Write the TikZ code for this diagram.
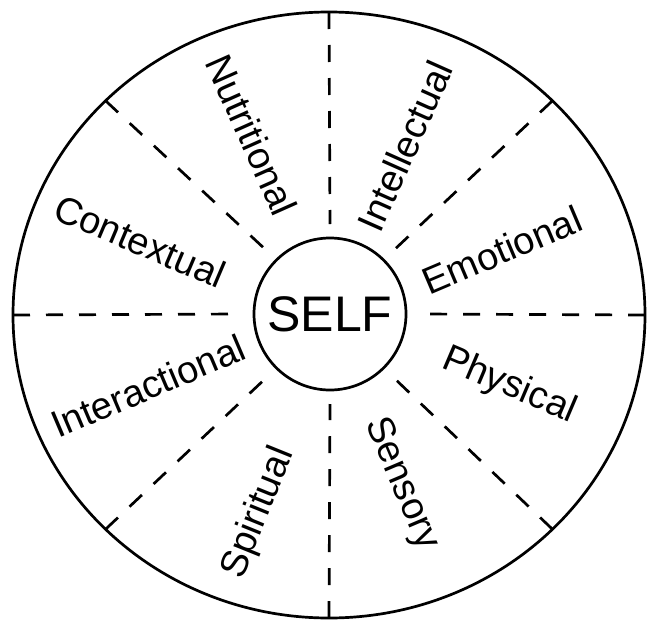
\documentclass[tikz,border=0pt]{standalone}
\usepackage{fontspec}
\setmainfont{Liberation Sans}
\begin{document}
\begin{tikzpicture}[x=1pt,y=-1pt,
  rim/.style={line width=2.7pt},
  spoke/.style={line width=2.7pt, dash pattern=on 17pt off 16pt},
  lbl/.style={font=\fontsize{38}{42}\selectfont, inner sep=0pt},
  selfnode/.style={circle, draw, line width=2.7pt, minimum size=152pt, inner sep=0pt, font=\fontsize{50}{54}\selectfont}]
\useasboundingbox (0,0) rectangle (648,624);
\fill[white] (0,0) rectangle (648,624);
% outer rim
\draw[rim] (329,315) ellipse [x radius=316, y radius=303];
% centre
\node[selfnode] (self) at (330,314) {SELF};
% spokes
\foreach \a/\n in {0/a,45/b,90/c,135/d,180/e,225/f,270/g,315/h}{
  \coordinate (o\n) at ({329+316*cos(\a)},{315-303*sin(\a)});
  \coordinate (i\n) at ({330+90*cos(\a)},{314-90*sin(\a)});
  \draw[spoke] (o\n) -- (i\n);
}
% labels
\node[lbl, rotate=-23] (contextual) at (140,241) {Contextual};
\node[lbl, rotate=-66] (nutritional) at (252,135) {Nutritional};
\node[lbl, rotate=66] (intellectual) at (405,146) {Intellectual};
\node[lbl, rotate=23] (emotional) at (502,250) {Emotional};
\node[lbl, rotate=-23] (physical) at (509,386) {Physical};
\node[lbl, rotate=-67] (sensory) at (401,484) {Sensory};
\node[lbl, rotate=68] (spiritual) at (259,513) {Spiritual};
\node[lbl, rotate=23] (interactional) at (148,386) {Interactional};
\end{tikzpicture}
\end{document}
